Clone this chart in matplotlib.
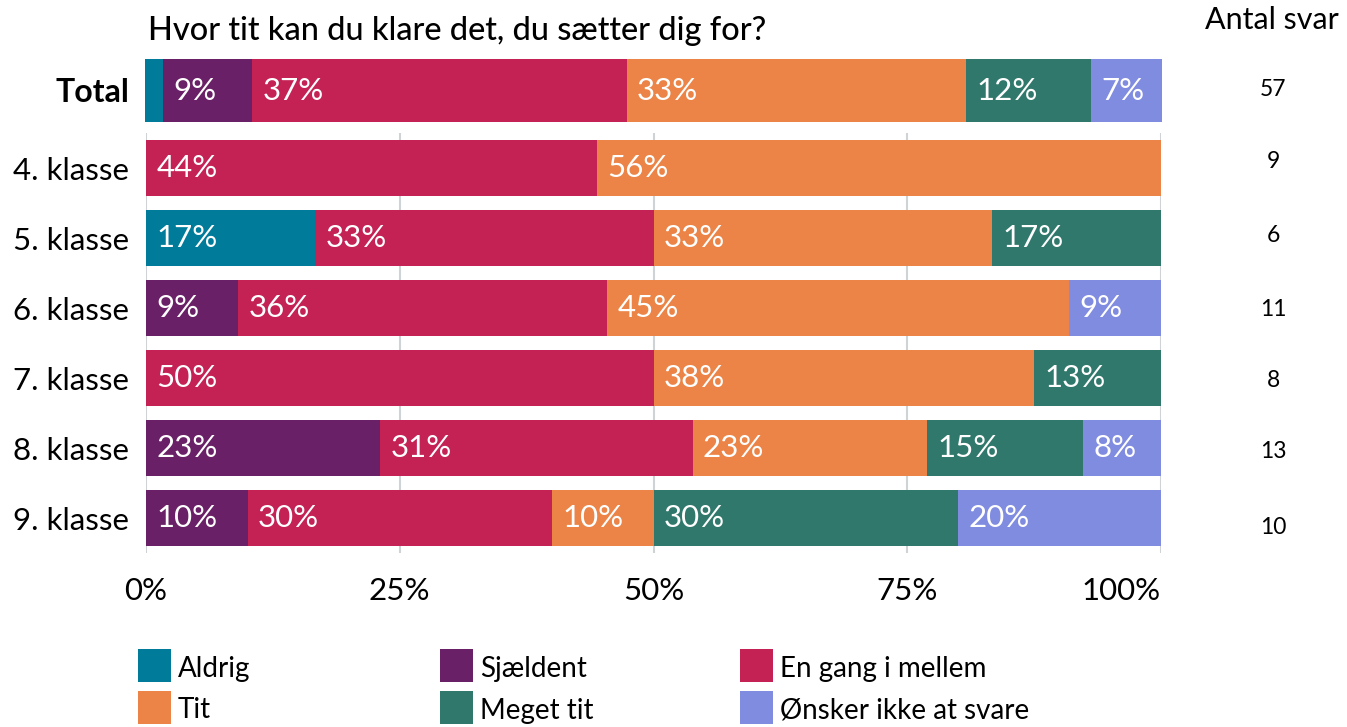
import matplotlib
matplotlib.use("Agg")
import matplotlib.pyplot as plt
from matplotlib.patches import Rectangle
import numpy as np

plt.rcParams['font.family'] = ['Lato', 'DejaVu Sans']

# Answer categories and their colours
categories = ["Aldrig", "Sjældent", "En gang i mellem", "Tit", "Meget tit", "Ønsker ikke at svare"]
colors = ["#017b9a", "#6a2066", "#c42155", "#eb8446", "#31786c", "#7f8ce0"]

# Answer counts per class (in category order)
groups = ["4. klasse", "5. klasse", "6. klasse", "7. klasse", "8. klasse", "9. klasse"]
counts = {
    "4. klasse": [0, 0, 4, 5, 0, 0],
    "5. klasse": [1, 0, 2, 2, 1, 0],
    "6. klasse": [0, 1, 4, 5, 0, 1],
    "7. klasse": [0, 0, 4, 3, 1, 0],
    "8. klasse": [0, 3, 4, 3, 2, 1],
    "9. klasse": [0, 1, 3, 1, 3, 2],
}
total_counts = [1, 5, 21, 19, 7, 4]

title = "Hvor tit kan du klare det, du sætter dig for?"
xticks = [0, 25, 50, 75, 100]
xtick_labels = ["0%", "25%", "50%", "75%", "100%"]

W, H = 1347, 727
fig = plt.figure(figsize=(W / 100, H / 100), dpi=100)


def px_axes(left, top, right, bottom):
    return fig.add_axes([left / W, 1 - bottom / H, (right - left) / W, (bottom - top) / H])


def pct_label(p):
    # round half up, as 12.5 -> 13
    return f"{int(np.floor(p + 0.5 + 1e-9))}%"


def draw_row(ax, y, vals, height, fs):
    vals = np.asarray(vals, dtype=float)
    pct = vals / vals.sum() * 100
    left = 0.0
    for p, c in zip(pct, colors):
        if p > 0:
            ax.barh(y, p, left=left, height=height, color=c, linewidth=0, zorder=2)
            if p >= 5:
                ax.annotate(pct_label(p), (left, y), xytext=(7.5, 0), textcoords="offset points",
                            ha="left", va="center", color="white", fontsize=fs, zorder=3)
        left += p


# Total bar
ax_t = px_axes(145, 59, 1162, 122)
draw_row(ax_t, 0, total_counts, 1.0, 22.5)
ax_t.set_xlim(0, 100)
ax_t.set_ylim(-0.5, 0.5)
ax_t.set_yticks([0])
ax_t.set_yticklabels(["Total"], fontsize=23, fontweight="bold")
ax_t.set_xticks([])
ax_t.tick_params(axis="y", length=0, pad=11)
for s in ax_t.spines.values():
    s.set_visible(False)

# Class bars
ax = px_axes(146, 133, 1161, 553)
for i, g in enumerate(groups):
    draw_row(ax, i, counts[g], 0.8, 22.5)
ax.set_xlim(0, 100)
ax.set_ylim(len(groups) - 0.5, -0.5)
ax.set_yticks(range(len(groups)))
ax.set_yticklabels(groups, fontsize=22.5)
ax.set_xticks(xticks)
ax.set_xticklabels(xtick_labels, fontsize=22.5)
ax.get_xticklabels()[-1].set_horizontalalignment("right")
ax.tick_params(axis="y", length=0, pad=12)
ax.tick_params(axis="x", length=0, pad=17)
ax.grid(axis="x", color="#cfd3d6", linewidth=1.5, zorder=0)
ax.set_axisbelow(True)
for s in ax.spines.values():
    s.set_visible(False)

# Title and response counts
fig.text(148 / W, 1 - 31 / H, title, fontsize=23.4, fontweight="medium", ha="left", va="center")
fig.text(1272 / W, 1 - 20 / H, "Antal svar", fontsize=22, ha="center", va="center")
fig.text(1273 / W, 1 - 89 / H, str(sum(total_counts)), fontsize=16.5, ha="center", va="center")
count_y = [162, 236, 310, 381, 451, 527]
for g, yc in zip(groups, count_y):
    fig.text(1273 / W, 1 - yc / H, str(sum(counts[g])), fontsize=16.5, ha="center", va="center")

# Legend grid: three columns, two rows
col_x = [138, 440, 740]
row_y = [649, 691]
sq = 33
for k, (name, c) in enumerate(zip(categories, colors)):
    r, col = divmod(k, 3)
    x0, y0 = col_x[col], row_y[r]
    fig.patches.append(Rectangle((x0 / W, 1 - (y0 + sq) / H), sq / W, sq / H,
                                 transform=fig.transFigure, facecolor=c, edgecolor="none"))
    fig.text((x0 + 40) / W, 1 - (y0 + sq / 2 + 3) / H, name, fontsize=20, ha="left", va="center")

fig.savefig("out.png", dpi=100)
